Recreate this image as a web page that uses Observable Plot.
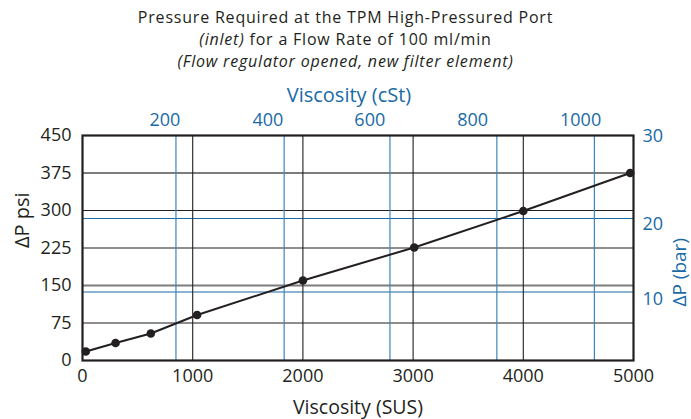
<!DOCTYPE html>
<html>
<head>
<meta charset="utf-8">
<script src="https://cdn.jsdelivr.net/npm/d3@7"></script>
<script src="https://cdn.jsdelivr.net/npm/@observablehq/plot@0.6"></script>
<style>
  html, body { margin: 0; padding: 0; background: #fff; }
  body { width: 691px; height: 419px; overflow: hidden; font-family: "Open Sans", sans-serif; color: #231f20; }
  #title { height: 72px; box-sizing: border-box; padding-top: 6px; text-align: center; font-size: 16px; letter-spacing: 0.8px; line-height: 22px; }
  #title .it { font-style: italic; }
  #chart svg { display: block; }
</style>
</head>
<body>
<div id="title">
  <div>Pressure Required at the TPM High-Pressured Port</div>
  <div><span class="it">(inlet)</span> for a Flow Rate of 100 ml/min</div>
  <div class="it">(Flow regulator opened, new filter element)</div>
</div>
<div id="chart"></div>
<script>
// Measured series: viscosity (SUS) vs pressure drop (psi)
const sus = [30, 300, 620, 1040, 2000, 3010, 4000, 4970];
const psi = [18, 35, 54, 91, 160, 226, 299, 375];

// Primary axes ticks
const susTicks = [0, 1000, 2000, 3000, 4000, 5000];
const psiTicks = [0, 75, 150, 225, 300, 375, 450];
const psiGridDark = [75, 225, 300];
const psiGridGray = [150, 375];

// Secondary (cSt) axis: tick values, their gridline position in SUS, label position in SUS
const cstTicks = [200, 400, 600, 800, 1000];
const cstGridSus = [848, 1830, 2790, 3760, 4645];
const cstLabelSus = [748, 1682, 2607, 3540, 4520];

// Secondary (bar) axis: tick values, gridline position in psi, label position in psi
const barTicks = [10, 20, 30];
const barGridPsi = [137, 284];
const barLabelPsi = [123, 273, 448];

const blue = "#1a6aa6";
const blueLine = "#3c86bd";
const ink = "#231f20";

const points = sus.map((s, i) => ({sus: s, psi: psi[i]}));
const cstLabels = cstTicks.map((c, i) => ({x: cstLabelSus[i], label: String(c)}));
const barLabels = barTicks.map((b, i) => ({y: barLabelPsi[i], label: String(b)}));

const chart = Plot.plot({
  width: 691,
  height: 347,
  marginTop: 63,
  marginBottom: 59,
  marginLeft: 82,
  marginRight: 58,
  style: {fontFamily: "Open Sans, sans-serif", color: ink, background: "#fff"},
  x: {domain: [0, 5000]},
  y: {domain: [0, 450]},
  marks: [
    Plot.ruleY(psiGridDark, {stroke: ink, strokeWidth: 1.1}),
    Plot.ruleY(psiGridGray, {stroke: "#7d7d7d", strokeWidth: 2}),
    Plot.ruleY(barGridPsi, {stroke: blue, strokeWidth: 1.2}),
    Plot.ruleX(susTicks.slice(1, -1), {stroke: ink, strokeWidth: 1.1}),
    Plot.ruleX(cstGridSus, {stroke: blueLine, strokeWidth: 1.2}),
    Plot.frame({stroke: ink, strokeWidth: 2.2}),
    Plot.axisX(susTicks, {anchor: "bottom", tickSize: 0, tickPadding: 9, fontSize: 18, fill: ink, label: null, tickFormat: d => String(d)}),
    Plot.axisY(psiTicks, {anchor: "left", tickSize: 0, tickPadding: 11, fontSize: 18, fill: ink, label: null, tickFormat: d => String(d)}),
    Plot.text(cstLabels, {x: "x", text: "label", frameAnchor: "top", lineAnchor: "middle", dy: -15, fontSize: 18, fill: blue}),
    Plot.text(barLabels, {y: "y", text: "label", frameAnchor: "right", textAnchor: "start", dx: 9, fontSize: 18, fill: blue}),
    Plot.text(["Viscosity (SUS)"], {frameAnchor: "bottom", lineAnchor: "middle", dy: 47, fontSize: 19.5, fill: ink}),
    Plot.text(["Viscosity (cSt)"], {frameAnchor: "top", lineAnchor: "middle", dx: -9, dy: -40, fontSize: 20, fill: blue}),
    Plot.text(["ΔP psi"], {frameAnchor: "left", dx: -60, rotate: -90, fontSize: 20, fill: ink}),
    Plot.text(["ΔP (bar)"], {frameAnchor: "right", dx: 46, dy: -10, rotate: -90, fontSize: 19, fill: blue}),
    Plot.line(points, {x: "sus", y: "psi", stroke: ink, strokeWidth: 2}),
    Plot.dot(points, {x: "sus", y: "psi", r: 4.3, fill: ink, stroke: "none"})
  ]
});
document.getElementById("chart").appendChild(chart);
</script>
</body>
</html>
